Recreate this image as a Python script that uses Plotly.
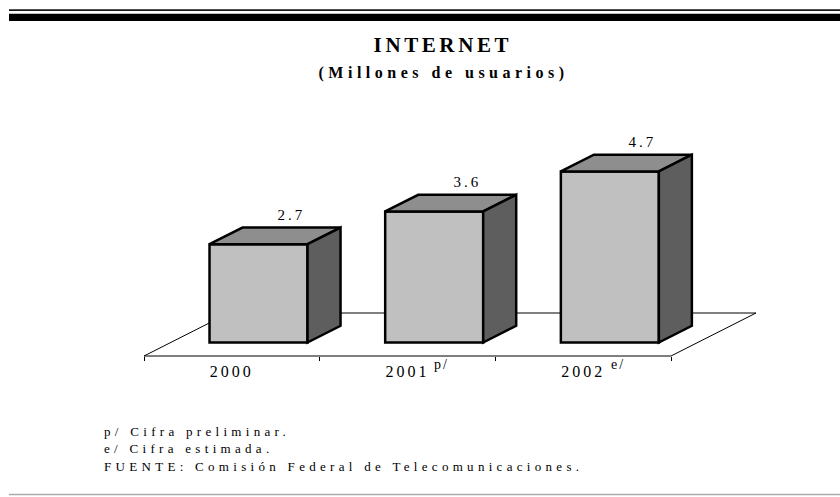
import json
import plotly.graph_objects as go

# ---- data -------------------------------------------------------------
years = ["2000", "2001", "2002"]
year_marks = ["", "p/", "e/"]
users = [2.7, 3.6, 4.7]          # millions of users
value_labels = ["2.7", "3.6", "4.7"]

title = "INTERNET"
subtitle = "(Millones de usuarios)"
notes = [
    "p/ Cifra preliminar.",
    "e/ Cifra estimada.",
    "FUENTE: Comisión Federal de Telecomunicaciones.",
]

# ---- geometry of the pseudo-3D chart ------------------------------------
W, H = 840, 497
CAT_PX = 175.67      # pixels per category
VAL_PX = 36.4        # pixels per million users
X0_PX = 144          # pixel column of the floor's front-left corner (x = -0.5)
Y0_PX = 356          # pixel row of the floor's front edge (y = 0)

DX = 85 / CAT_PX     # floor depth, in category units
DY = 43 / VAL_PX     # floor depth, in value units
F0, F1 = 13.5 / 43, 30.2 / 43   # bar front / back depth as fraction of floor depth
BW = 98 / CAT_PX     # bar front width

x_range = [-0.5 - X0_PX / CAT_PX, -0.5 + (W - X0_PX) / CAT_PX]
y_range = [-(H - Y0_PX) / VAL_PX, Y0_PX / VAL_PX]

FONT = "Liberation Serif, Times New Roman, serif"
FRONT, TOP, SIDE = "#c0c0c0", "#8e8e8e", "#5e5e5e"


def py(p):
    """pixel row -> paper y"""
    return 1 - p / H


def px(p):
    return p / W


def path(pts):
    return "M " + " L ".join(f"{x:.5f},{y:.5f}" for x, y in pts) + " Z"


shapes = []

# floor parallelogram
n = len(years)
shapes.append(dict(
    type="path", xref="x", yref="y", layer="above",
    path=path([(-0.5, 0), (n - 0.5, 0), (n - 0.5 + DX, DY), (-0.5 + DX, DY)]),
    fillcolor="white", line=dict(color="black", width=1),
))

annotations = []
spacing = []

ddx, ddy = (F1 - F0) * DX, (F1 - F0) * DY
for i, (v, lab) in enumerate(zip(users, value_labels)):
    cx = i + F0 * DX
    base = F0 * DY
    xl, xr = cx - BW / 2, cx + BW / 2
    top = base + v
    edge = dict(color="black", width=2.5)
    # front face
    shapes.append(dict(type="path", xref="x", yref="y", layer="above",
                       path=path([(xl, base), (xr, base), (xr, top), (xl, top)]),
                       fillcolor=FRONT, line=edge))
    # top face
    shapes.append(dict(type="path", xref="x", yref="y", layer="above",
                       path=path([(xl, top), (xr, top), (xr + ddx, top + ddy), (xl + ddx, top + ddy)]),
                       fillcolor=TOP, line=edge))
    # right side face
    shapes.append(dict(type="path", xref="x", yref="y", layer="above",
                       path=path([(xr, base), (xr + ddx, base + ddy), (xr + ddx, top + ddy), (xr, top)]),
                       fillcolor=SIDE, line=edge))
    # value label above the back edge of the top face
    annotations.append(dict(x=cx + ddx, y=top + ddy, xref="x", yref="y",
                            text=lab, showarrow=False, xanchor="center", yanchor="middle",
                            yshift=13, font=dict(family=FONT, size=15, color="black")))
    spacing.append(3)

# superscript marks next to the year labels
for i, m in enumerate(year_marks):
    if not m:
        continue
    annotations.append(dict(x=i, y=0, xref="x", yref="y", text=m, showarrow=False,
                            xanchor="left", yanchor="middle", xshift=24 + 2 * i, yshift=-8,
                            font=dict(family=FONT, size=14, color="black")))
    spacing.append(2)

# title block
annotations.append(dict(x=px(443), y=py(45), xref="paper", yref="paper", text=f"<b>{title}</b>",
                        showarrow=False, xanchor="center", yanchor="middle",
                        font=dict(family=FONT, size=21, color="black")))
spacing.append(3.6)
annotations.append(dict(x=px(443), y=py(72.5), xref="paper", yref="paper", text=f"<b>{subtitle}</b>",
                        showarrow=False, xanchor="center", yanchor="middle",
                        font=dict(family=FONT, size=16, color="black")))
spacing.append(4.5)

# footnotes
for k, note in enumerate(notes):
    annotations.append(dict(x=px(102), y=py(431.5 + 17.3 * k), xref="paper", yref="paper", text=note,
                            showarrow=False, xanchor="left", yanchor="middle", align="left",
                            font=dict(family=FONT, size=13, color="black")))
    spacing.append(4.3)

# page rules
shapes += [
    dict(type="line", xref="paper", yref="paper", x0=px(9), x1=1, y0=py(10.2), y1=py(10.2),
         line=dict(color="#1a1a1a", width=1.7)),
    dict(type="rect", xref="paper", yref="paper", x0=px(9), x1=1, y0=py(13.7), y1=py(21),
         fillcolor="black", line=dict(width=0)),
    dict(type="line", xref="paper", yref="paper", x0=px(9), x1=1, y0=py(494.5), y1=py(494.5),
         line=dict(color="#aaaaaa", width=1.5)),
]

fig = go.Figure()
fig.add_trace(go.Scatter(x=[0], y=[0], mode="markers", marker=dict(opacity=0), hoverinfo="skip",
                         showlegend=False))
fig.update_layout(
    width=W, height=H, margin=dict(l=0, r=0, t=0, b=0),
    paper_bgcolor="white", plot_bgcolor="white", showlegend=False,
    shapes=shapes, annotations=annotations,
    xaxis=dict(range=x_range, domain=[0, 1], anchor="free", position=py(Y0_PX),
               showgrid=False, zeroline=False, showline=False,
               tickmode="array", tickvals=list(range(n)), ticktext=years,
               ticks="", ticklabelstandoff=4,
               tickfont=dict(family=FONT, size=16, color="black"),
               minor=dict(tickmode="array", tickvals=[i - 0.5 for i in range(n + 1)],
                          ticks="outside", ticklen=4, tickcolor="black", tickwidth=1,
                          showgrid=False)),
    yaxis=dict(range=y_range, domain=[0, 1], visible=False),
)

js = """
var SP = %s;
var gd = document.getElementById('{plot_id}');
gd.querySelectorAll('g.annotation').forEach(function(g){
  var i = g.getAttribute('data-index');
  var t = g.querySelector('text');
  if (t && SP[i] != null) { t.style.letterSpacing = SP[i] + 'px'; }
});
gd.querySelectorAll('.xtick text').forEach(function(t){ t.style.letterSpacing = '3px'; });
""" % json.dumps(spacing)

fig.write_html("out.html", post_script=js)
